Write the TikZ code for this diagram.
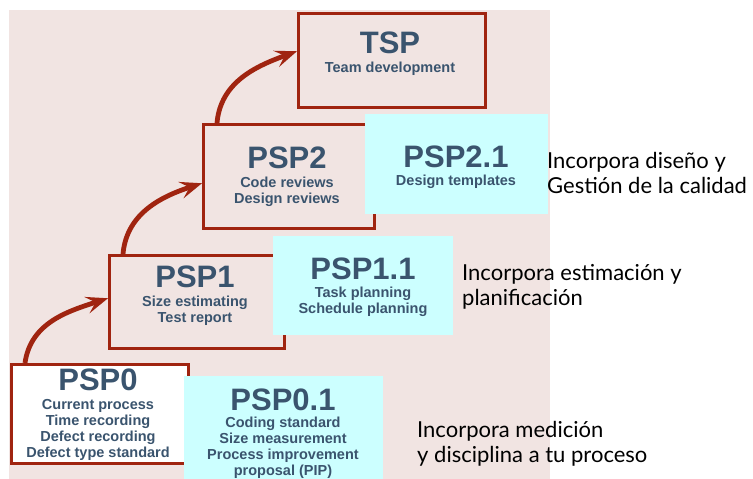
\documentclass[tikz,border=0pt]{standalone}
\usepackage{fontspec}
\setmainfont{Liberation Sans}
\newfontfamily\notefont{Lato}
\usetikzlibrary{arrows.meta,calc}

\definecolor{bgpink}{RGB}{241,228,226}
\definecolor{cyanbox}{RGB}{204,255,255}
\definecolor{boxred}{RGB}{160,36,16}
\definecolor{textblue}{RGB}{58,84,110}

\tikzset{
  stage/.style={draw=boxred, line width=2.5pt, fill=bgpink, inner sep=0pt, anchor=north west},
  ext/.style={fill=cyanbox, inner sep=0pt, anchor=north west},
  title/.style={anchor=base, text=textblue, inner sep=0pt,
                font=\bfseries\fontsize{31}{33}\selectfont},
  % multi-line labels: the base anchor sits on the last line
  sub/.style={anchor=base, text=textblue, inner sep=0pt, align=center,
              font=\bfseries\fontsize{14.5}{16}\selectfont},
  note/.style={anchor=base west, inner sep=0pt, align=left,
               font=\notefont\fontsize{22}{25}\selectfont},
  climb/.style={draw=boxred, line width=4.8pt,
                -{Stealth[length=22pt,width=17pt,inset=9pt]}},
}

\begin{document}
\begin{tikzpicture}[x=1pt,y=-1pt]
  \useasboundingbox (0,0) rectangle (753,479);
  % backdrop
  \fill[bgpink] (9,10) rectangle (550,479);

  % process stages
  \node[stage, minimum width=187pt, minimum height=94pt] (tsp) at (297,12) {};
  \node[stage, minimum width=171pt, minimum height=104pt] (psp2) at (202,123) {};
  \node[stage, minimum width=175pt, minimum height=93pt] (psp1) at (108,254) {};
  \node[stage, fill=white, minimum width=177pt, minimum height=99pt] (psp0) at (10,363) {};

  % extensions
  \node[ext, minimum width=183pt, minimum height=100pt] (psp21) at (365,114) {};
  \node[ext, minimum width=180pt, minimum height=99pt] (psp11) at (273,236) {};
  \node[ext, minimum width=199pt, minimum height=103pt] (psp01) at (184,376) {};

  % stage labels
  \node[title] (tspT) at (390,53) {TSP};
  \node[sub] (tspS) at (390,72) {Team development};

  \node[title] (psp2T) at (287,168) {PSP2};
  \node[sub] (psp2S) at (287,203) {Code reviews\\Design reviews};

  \node[title] (psp21T) at (456,167) {PSP2.1};
  \node[sub] (psp21S) at (456,185) {Design templates};

  \node[title] (psp1T) at (195,287) {PSP1};
  \node[sub] (psp1S) at (195,322) {Size estimating\\Test report};

  \node[title] (psp11T) at (363,279) {PSP1.1};
  \node[sub] (psp11S) at (363,313) {Task planning\\Schedule planning};

  \node[title] (psp0T) at (98,390) {PSP0};
  \node[sub] (psp0S) at (98,457) {Current process\\Time recording\\Defect recording\\Defect type standard};

  \node[title] (psp01T) at (283,410) {PSP0.1};
  \node[sub] (psp01S) at (283,475) {Coding standard\\Size measurement\\Process improvement\\proposal (PIP)};

  % side notes
  \node[note] (n2) at (547,193) {Incorpora diseño y\\Gestión de la calidad};
  \node[note] (n1) at (462,305) {Incorpora estimación y\\planificación};
  \node[note] (n0) at (417,462) {Incorpora medición\\y disciplina a tu proceso};

  % progression arrows
  \draw[climb] ([xshift=15pt]psp0.north west) to[out=82,in=198] ([yshift=3.5pt]psp1.west);
  \draw[climb] ([xshift=15pt]psp1.north west) to[out=85,in=198] ([yshift=-7pt]psp2.west);
  \draw[climb] ([xshift=15pt]psp2.north west) to[out=85,in=200] ([yshift=9pt]tsp.west);
\end{tikzpicture}
\end{document}
